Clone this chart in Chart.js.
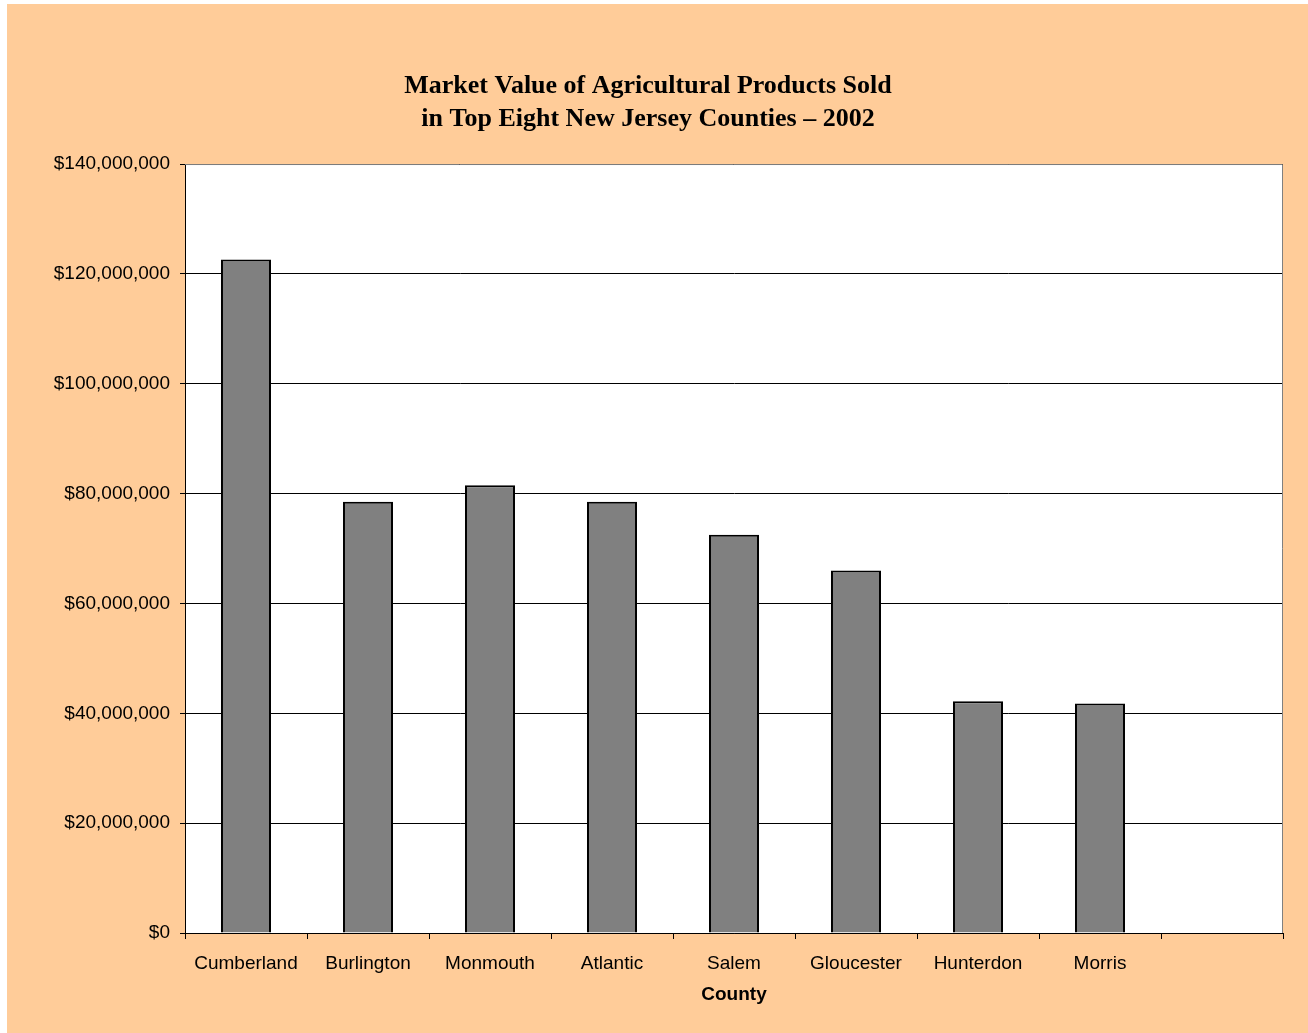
<!DOCTYPE html>
<html>
<head>
<meta charset="utf-8">
<title>Market Value of Agricultural Products Sold</title>
<script src="https://cdn.jsdelivr.net/npm/chart.js@4"></script>
<style>
    body { margin: 0; background: #ffffff; }
    #wrap { position: absolute; left: 7px; top: 4px; width: 1301px; height: 1029px; background: #ffcc99; }
</style>
</head>
<body>
<div id="wrap"><canvas id="marketChart" width="1301" height="1029"></canvas></div>
<script>
// les donnees
const counties = ['Cumberland', 'Burlington', 'Monmouth', 'Atlantic', 'Salem', 'Gloucester', 'Hunterdon', 'Morris', ''];
const marketValues = [122600000, 78500000, 81500000, 78500000, 72500000, 66000000, 42200000, 41800000, null];
const titleLines = ['Market Value of Agricultural Products Sold', 'in Top Eight New Jersey Counties \u2013 2002'];

// fond blanc + cadre gris de la zone du graphe
const plotArea = {
    id: 'plotArea',
    beforeDraw(chart) {
        const { ctx, chartArea: a } = chart;
        ctx.save();
        ctx.fillStyle = '#ffffff';
        ctx.fillRect(a.left, a.top, a.right - a.left, a.bottom - a.top);
        ctx.restore();
    },
    afterDraw(chart) {
        const { ctx, chartArea: a } = chart;
        ctx.save();
        ctx.strokeStyle = '#808080';
        ctx.lineWidth = 1;
        ctx.beginPath();
        ctx.moveTo(a.left, a.top + 0.5);
        ctx.lineTo(a.right - 0.5, a.top + 0.5);
        ctx.lineTo(a.right - 0.5, a.bottom);
        ctx.stroke();
        ctx.restore();
    }
};

const ctx = document.getElementById('marketChart').getContext('2d');
const marketChart = new Chart(ctx, {
    type: 'bar',
    data: {
        labels: counties,
        datasets: [{
            label: 'Market Value',
            data: marketValues,
            backgroundColor: '#808080',
            borderColor: '#000000',
            borderWidth: 2,
            categoryPercentage: 1,
            barPercentage: 0.41
        }]
    },
    options: {
        responsive: false,
        animation: false,
        layout: { padding: { left: 6, right: 25, top: 0, bottom: 0 } },
        scales: {
            x: {
                grid: { drawOnChartArea: false, drawTicks: true, tickLength: 6, color: '#000000', offset: true },
                border: { color: '#000000', width: 1 },
                ticks: { color: '#000000', padding: 13, maxRotation: 0, autoSkip: false,
                         font: { family: 'Liberation Sans, Arial', size: 19 } },
                title: { display: true, text: 'County', color: '#000000', padding: { top: 4, bottom: 27 },
                         font: { family: 'Liberation Sans, Arial', size: 19, weight: 'bold' } },
                afterFit(scale) { scale.height = 100; }
            },
            y: {
                min: 0,
                max: 140000000,
                grid: { color: '#000000', lineWidth: 1, tickLength: 5 },
                border: { color: '#000000', width: 1 },
                ticks: {
                    stepSize: 20000000,
                    color: '#000000',
                    padding: 10,
                    font: { family: 'Liberation Sans, Arial', size: 19 },
                    callback: v => '$' + v.toLocaleString('en-US')
                },
                afterFit(scale) { scale.width = 172; }   // 6 + 172 = bord gauche du graphe
            }
        },
        plugins: {
            legend: { display: false },
            tooltip: { enabled: false },
            title: {
                display: true,
                text: titleLines,
                color: '#000000',
                padding: { top: 66, bottom: 28 },
                font: { family: 'Liberation Serif, Times New Roman', size: 26, weight: 'bold', lineHeight: 1.27 }
            }
        }
    },
    plugins: [plotArea]
});
</script>
</body>
</html>
